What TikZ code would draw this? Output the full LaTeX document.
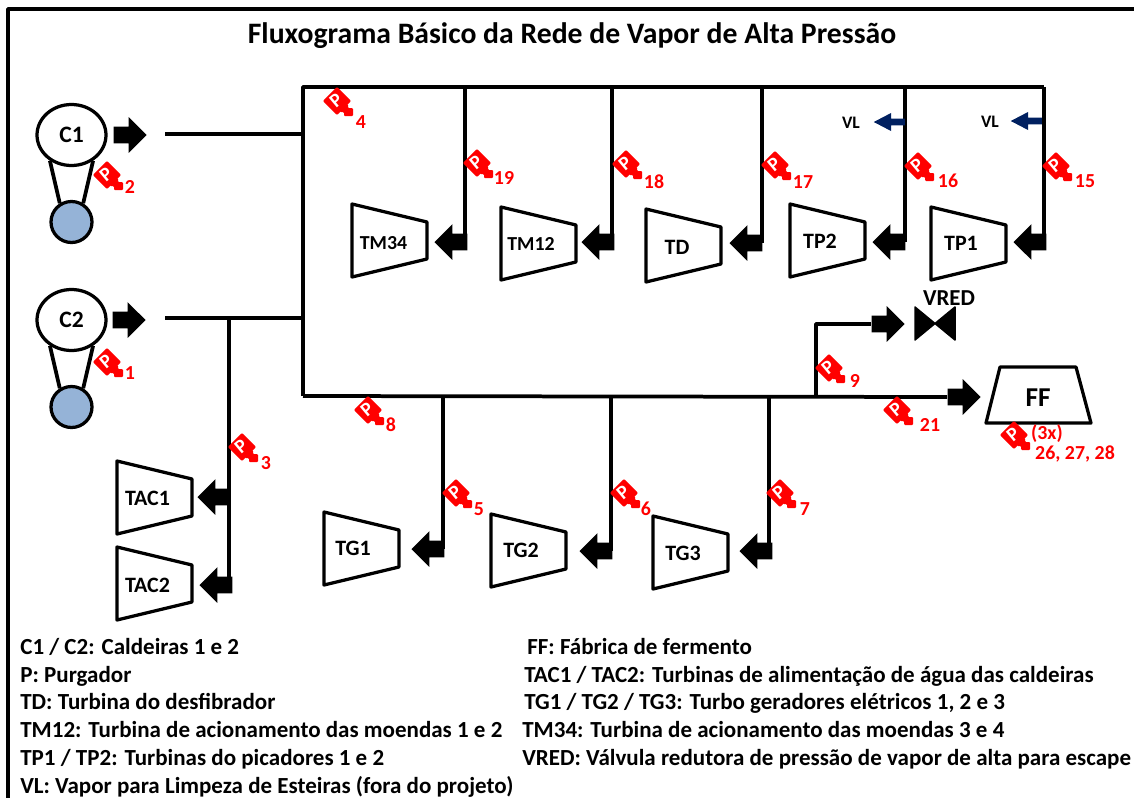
\documentclass[tikz,border=0pt]{standalone}
\usepackage{fontspec}
\setmainfont{Carlito}
\usetikzlibrary{shapes.arrows,shapes.geometric}
\definecolor{azulc}{HTML}{95B3D7}
\definecolor{azulvl}{HTML}{002060}
\tikzset{
  linha/.style={line width=.075cm,line join=round},
  contorno/.style={line width=.065cm,line join=round,fill=white},
  setapreta/.style={single arrow,fill=black,inner sep=.16cm,minimum height=.66cm,single arrow head extend=.19cm,anchor=tip},
  setavl/.style={single arrow,fill=azulvl,inner sep=.06cm,minimum height=.62cm,single arrow head extend=.115cm,single arrow tip angle=55,anchor=tip},
  rotulo/.style={font=\fontsize{12.5}{14}\selectfont\bfseries},
  numero/.style={font=\fontsize{11.3}{13}\selectfont\bfseries,text=red},
  legenda/.style={font=\fontsize{13.1}{15}\selectfont\bfseries,anchor=base west,inner sep=0pt},
  purgador/.pic={
    \fill[red,rotate=-45,rounded corners=.02cm] (-10,-10) rectangle (10,10);
    \fill[red,rounded corners=.02cm] (3,3) -- (11,3) -- (11,7) -- (16,7) -- (16,15) -- (7,15) -- (7,11) -- (3,11) -- cycle;
    \node[rotate=40,white,font=\fontsize{11}{13}\selectfont\bfseries,inner sep=0pt] (-letra) at (-1,-1) {P};
  }
}
\begin{document}
\begin{tikzpicture}[x=.02cm,y=-.02cm]
\useasboundingbox (0,0) rectangle (1134,798);
\draw[linha] (8,798) -- (8,9) -- (1134,9);
\node[font=\fontsize{16.9}{20}\selectfont\bfseries] (titulo) at (572,36) {Fluxograma Básico da Rede de Vapor de Alta Pressão};

% caldeiras
\foreach \c/\y in {C1/135,C2/320}{
\node[draw,ellipse,contorno,inner sep=0pt,minimum width=1.38cm,minimum height=1.22cm,font=\fontsize{13.4}{15}\selectfont\bfseries] (\c) at (71.5,\y) {\c};
\node[draw,circle,contorno,fill=azulc,inner sep=0pt,minimum size=.82cm] (b\c) at (71.5,\y+87) {};
\draw[linha] (\c.-130) -- (b\c.122);
\draw[linha] (\c.-50) -- (b\c.58);
}

% barramento
\coordinate (tE) at (303,87);
\coordinate (tD) at (1044,87);
\coordinate (bE) at (303,396);
\coordinate (e1) at (165,134);
\coordinate (d1) at (303,134);
\coordinate (e2) at (165,318);
\coordinate (d2) at (303,318);
\coordinate (j9) at (816,396);
\coordinate (c9) at (816,324);
\draw[linha] (tD) -- (tE) -- (bE);
\draw[linha] (e1) -- (d1);
\draw[linha] (e2) -- (d2);

% setas para a direita
\node[setapreta] (sC1) at (147,135) {};
\node[setapreta] (sC2) at (146,320) {};
\node[setapreta] (sVR) at (905,324) {};
\node[setapreta] (sFF) at (981,397) {};
\draw[linha] (bE) -- (sFF.tail);
\draw[linha] (j9) -- (c9) -- (sVR.tail);

% turbinas
\foreach \n/\x/\y in {TM34/352/204,TM12/501/207,TD/646/209,TP2/790/204,TP1/931/207,TAC1/117/461,TAC2/117/547,TG1/324/512,TG2/491/514,TG3/653/516}
\draw[contorno] (\x,\y) -- (\x+75,\y+18) -- (\x+75,\y+55) -- (\x,\y+73) -- cycle;
\foreach \n/\x/\y/\s in {TM34/383.5/243/11.3,TM12/531/244/11.3,TD/677/247/12.5,TP2/820/241/12.5,TP1/961/243/12.5,TAC1/147.5/498/12.5,TAC2/147.5/585/12.5,TG1/353/548/12.5,TG2/521/550/12.5,TG3/683/553/12.5}
\node[rotulo,font=\fontsize{\s}{14}\selectfont\bfseries] (\n) at (\x,\y) {\n};

% setas para as turbinas
\foreach \n/\xa/\ya/\xb/\yb in {TM34/434/242/465/87,TM12/581/242/612/87,TD/729/243/762/87,TP2/872/242/905/87,TP1/1013/242/1044/87,TAC1/197/497/229/318,TAC2/199/585/229/318,TG1/411/549/443/396,TG2/579/551/611/396,TG3/739/551/769/396}{
\node[setapreta,rotate=180] (s\n) at (\xa,\ya) {};
\coordinate (o\n) at (\xb,\yb);
\draw[linha] (o\n) -- (o\n |- s\n);
}

% VL
\foreach \n/\x/\y/\xt in {a/873/122/851,b/1010/121/990}{
\node[setavl,rotate=180] (vl\n) at (\x,\y) {};
\node[font=\fontsize{10}{12}\selectfont\bfseries] (tvl\n) at (\xt,\y+1) {VL};
}

% valvula e fabrica
\draw[fill=black,line width=.03cm,line join=round] (915,307) -- (955,340) -- (955,307) -- (915,340) -- cycle;
\node[font=\fontsize{13}{15}\selectfont\bfseries] (VRED) at (949,298) {VRED};
\draw[contorno] (1000,367) -- (1076,367) -- (1091,423) -- (986,423) -- cycle;
\node[font=\fontsize{15.5}{18}\selectfont\bfseries] (FF) at (1038,398) {FF};

% purgadores
\foreach \n/\x/\y/\tx/\ty in {2/107/175/130/187,1/107/362/130/373,4/337/101/361/122,19/477/163/504/178,18/626/164/654/182,17/775/165/803/182,16/918/166/948/181,15/1056/166/1085/181,9/829/368/855/381,21/897/410/930/425,8/368/410/391/425,3/242/447/266/463,5/456/493/479/509,6/624/493/646/509,7/780/493/805/509}{
\pic (p\n) at (\x,\y) {purgador};
\node[numero] (n\n) at (\tx,\ty) {\n};
}
\pic (p26) at (1014,435) {purgador};
\node[numero] (n3x) at (1047,434) {(3x)};
\node[numero] (n26) at (1075,454) {26, 27, 28};

% legenda
\foreach \n/\x/\y/\t in {l1/20/654/{C1 / C2: Caldeiras 1 e 2},l2/20/682/{P: Purgador},l3/20/709/{TD: Turbina do desfibrador},l4/20/737/{TM12: Turbina de acionamento das moendas 1 e 2},l5/20/765/{TP1 / TP2: Turbinas do picadores 1 e 2},l6/20/793/{VL: Vapor para Limpeza de Esteiras (fora do projeto)},r1/527/654/{FF: Fábrica de fermento},r2/524/682/{TAC1 / TAC2: Turbinas de alimentação de água das caldeiras},r3/524/709/{TG1 / TG2 / TG3: Turbo geradores elétricos 1, 2 e 3},r4/522/737/{TM34: Turbina de acionamento das moendas 3 e 4},r5/522/765/{VRED: Válvula redutora de pressão de vapor de alta para escape}}
\node[legenda] (\n) at (\x,\y) {\t};
\end{tikzpicture}
\end{document}
